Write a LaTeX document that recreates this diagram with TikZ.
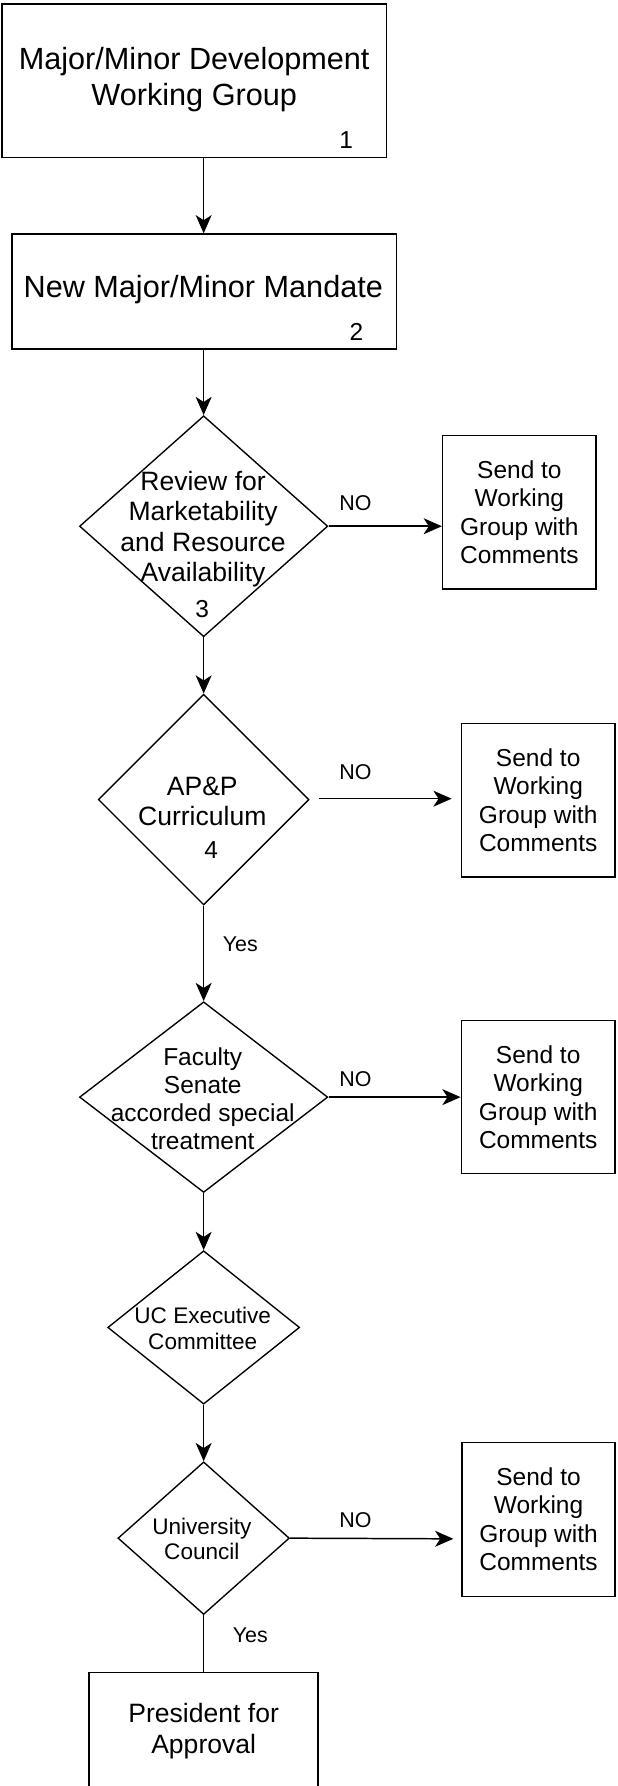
\documentclass[tikz,border=0pt]{standalone}
\usepackage{fontspec}
\setmainfont{Liberation Sans}
\usetikzlibrary{shapes.geometric,arrows.meta}
\begin{document}
\begin{tikzpicture}[x=1pt,y=-1pt,
  box/.style={draw, line width=1.3pt, rectangle, inner sep=0pt, align=center},
  dia/.style={draw, line width=1.2pt, diamond, inner sep=0pt},
  txt/.style={align=center, inner sep=0pt},
  big/.style={font=\fontsize{26.9}{32}\selectfont},
  mid/.style={font=\fontsize{23.3}{26.8}\selectfont},
  reg/.style={font=\fontsize{21.5}{25}\selectfont},
  sml/.style={font=\fontsize{19.8}{22.7}\selectfont},
  lbl/.style={font=\fontsize{18.8}{22}\selectfont, inner sep=0pt},
  conn/.style={line width=1.3pt, -{Stealth[length=16pt,width=14pt,inset=4.5pt]}},
  plainline/.style={line width=1.3pt}]
\useasboundingbox (0,0) rectangle (541.7,1568);

% boxes
\node[box, minimum width=337.3pt, minimum height=134.5pt] (b1) at (170.5,70.8) {};
\node[txt, big] (b1t) at (170.5,70) {Major/Minor Development\\Working Group};
\node[txt, reg] (b1n) at (304,123) {1};

\node[box, minimum width=337.6pt, minimum height=101pt] (b2) at (179.2,256) {};
\node[txt, big] (b2t) at (178.5,254.6) {New Major/Minor Mandate};
\node[txt, reg] (b2n) at (313,291) {2};

\node[box, reg, minimum width=134.8pt, minimum height=134.5pt] (s1) at (456,449.8) {Send to\\Working\\Group with\\Comments};
\node[box, reg, minimum width=135pt, minimum height=134.7pt] (s2) at (472.5,702.4) {Send to\\Working\\Group with\\Comments};
\node[box, reg, minimum width=135pt, minimum height=134.2pt] (s3) at (472.5,963.1) {Send to\\Working\\Group with\\Comments};
\node[box, reg, minimum width=134.5pt, minimum height=135pt] (s4) at (472.8,1333.9) {Send to\\Working\\Group with\\Comments};

\node[box, minimum width=201pt, minimum height=106.7pt] (pr) at (178.8,1521.7) {};
\node[txt, mid] (prt) at (178.8,1520) {President for\\Approval};

% diamonds
\node[dia, minimum width=218pt, minimum height=194pt] (d3) at (178.8,462) {};
\node[txt, mid] (d3t) at (178.3,464.6) {Review for\\Marketability\\and Resource\\Availability};
\node[txt, reg] (d3n) at (177.6,534.7) {3};

\node[dia, minimum width=185pt, minimum height=185pt] (d4) at (178.8,702) {};
\node[txt, mid] (d4t) at (177.6,703.5) {AP\&P\\Curriculum};
\node[txt, reg] (d4n) at (185.5,746.3) {4};

\node[dia, minimum width=218pt, minimum height=167.4pt] (d5) at (178.8,963.2) {};
\node[txt, font=\fontsize{21.5}{24.7}\selectfont] (d5t) at (178,964.6) {Faculty\\Senate\\accorded special\\treatment};

\node[dia, minimum width=168.5pt, minimum height=134.7pt] (d6) at (178.8,1165.4) {};
\node[txt, sml] (d6t) at (178,1166) {UC Executive\\Committee};

\node[dia, minimum width=150.6pt, minimum height=134pt] (d7) at (178.8,1350.4) {};
\node[txt, sml] (d7t) at (177.2,1351.1) {University\\Council};

% labels
\node[lbl] (no3) at (312,442) {NO};
\node[lbl] (no4) at (312,677.5) {NO};
\node[lbl] (no5) at (312,947.6) {NO};
\node[lbl] (no7) at (312,1334.6) {NO};
\node[lbl] (yes4) at (211,829) {Yes};
\node[lbl] (yes7) at (219.7,1435.5) {Yes};

% connectors
\coordinate (n4) at (280,701.2);
\coordinate (e4) at (396.5,701.2);
\coordinate (e7) at (398,1351);
\draw[conn] (b1.south -| d3.north) -- (b2.north -| d3.north);
\draw[conn] (b2.south -| d3.north) -- (d3.north);
\draw[conn] (d3.east) -- (s1.west |- d3.east);
\draw[conn] (d3.south) -- (d4.north);
\draw[conn] (n4) -- (e4);
\draw[conn] (d4.south) -- (d5.north);
\draw[conn] (d5.east) -- (s3.west |- d5.east);
\draw[conn] (d5.south) -- (d6.north);
\draw[conn] (d6.south) -- (d7.north);
\draw[conn] (d7.east) -- (e7);
\draw[plainline] (d7.south) -- (pr.north);
\end{tikzpicture}
\end{document}
